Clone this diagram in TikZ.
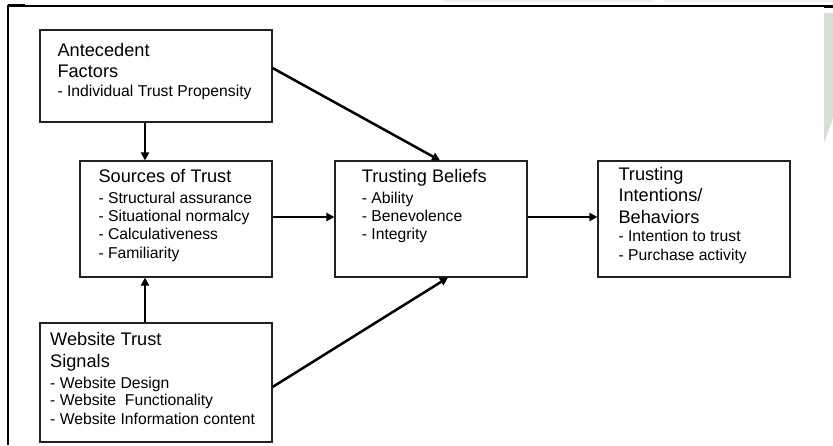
\documentclass[tikz,border=0pt]{standalone}
\usepackage{fontspec}
\setmainfont{Liberation Sans}
\usetikzlibrary{arrows.meta}
\definecolor{boxline}{HTML}{222222}
\definecolor{sidegreen}{HTML}{D2E2D2}
\definecolor{fadegrey}{HTML}{EEF0EE}
\definecolor{fadegreen}{HTML}{EEF7EE}
\tikzset{
  boxnode/.style={draw=boxline, line width=1.1pt, fill=none, inner sep=0pt, rectangle},
  ttl/.style={anchor=base west, inner sep=0pt, font=\fontsize{18.2}{20}\selectfont},
  itm/.style={anchor=base west, inner sep=0pt, font=\fontsize{15.7}{18}\selectfont},
  conn/.style={line width=2.5pt, -{Triangle[length=8pt,width=8pt]}},
  frameline/.style={line width=2pt, black}
}
\begin{document}
\begin{tikzpicture}[x=1pt,y=-1pt]
\useasboundingbox (0,0) rectangle (833,445);
% faint artefacts and frame
\fill[fadegrey] (443,0) rectangle (653,2);
\fill[fadegreen] (665,0) rectangle (833,2);
\fill[sidegreen] (824,13) -- (833,13) -- (833,118) -- (824,143) -- cycle;
\draw[frameline] (8,445) -- (8,6) -- (825,6);
\draw[line width=3pt] (8,5.5) -- (25,5.5);
\draw[line width=2.5pt] (824,6.5) -- (833,6.5);
% boxes
\node[boxnode, minimum width=232pt, minimum height=92pt]  (ant) at (156,76) {};
\node[boxnode, minimum width=192pt, minimum height=116pt] (src) at (176,219) {};
\node[boxnode, minimum width=192pt, minimum height=116pt] (bel) at (431,219) {};
\node[boxnode, minimum width=192pt, minimum height=116pt] (int) at (694,219) {};
\node[boxnode, minimum width=232pt, minimum height=119pt] (web) at (156,382.5) {};
% texts
\node[ttl] (ant1) at (57.3,56.7) {Antecedent};
\node[ttl] (ant2) at (57.3,77.3) {Factors};
\node[itm] (ant3) at (57.3,96.7) {- Individual Trust Propensity};
\node[ttl] (src1) at (98.3,182.7) {Sources of Trust};
\node[itm] (src2) at (98.3,203.3) {- Structural assurance};
\node[itm] (src3) at (98.3,221.7) {- Situational normalcy};
\node[itm] (src4) at (98.3,239.3) {- Calculativeness};
\node[itm] (src5) at (98.3,258.3) {- Familiarity};
\node[ttl] (bel1) at (361.7,182.7) {Trusting Beliefs};
\node[itm] (bel2) at (361.7,203.3) {- Ability};
\node[itm] (bel3) at (361.7,221.7) {- Benevolence};
\node[itm] (bel4) at (361.7,239.3) {- Integrity};
\node[ttl] (int1) at (618.3,180) {Trusting};
\node[ttl] (int2) at (618.3,201.7) {Intentions/};
\node[ttl] (int3) at (618.3,223.3) {Behaviors};
\node[itm] (int4) at (618.3,241.7) {- Intention to trust};
\node[itm] (int5) at (618.3,260.7) {- Purchase activity};
\node[ttl] (web1) at (50,345.7) {Website Trust};
\node[ttl] (web2) at (50,367.3) {Signals};
\node[itm] (web3) at (50,388) {- Website Design};
\node[itm] (web4) at (50,405.7) {- Website~ Functionality};
\node[itm] (web5) at (50,424.7) {- Website Information content};
% connectors
\draw[conn] ([xshift=-11pt]ant.south) -- ([xshift=-31pt]src.north);
\draw[conn] ([yshift=8pt]ant.east) -- ([xshift=9pt]bel.north);
\draw[conn] ([yshift=2pt]src.east) -- ([yshift=2pt]bel.west);
\draw[conn] ([yshift=2pt]bel.east) -- ([yshift=2pt]int.west);
\draw[conn] ([xshift=-11pt]web.north) -- ([xshift=-31pt]src.south);
\draw[conn] ([yshift=-4.5pt]web.east) -- ([xshift=17pt]bel.south);
\end{tikzpicture}
\end{document}
